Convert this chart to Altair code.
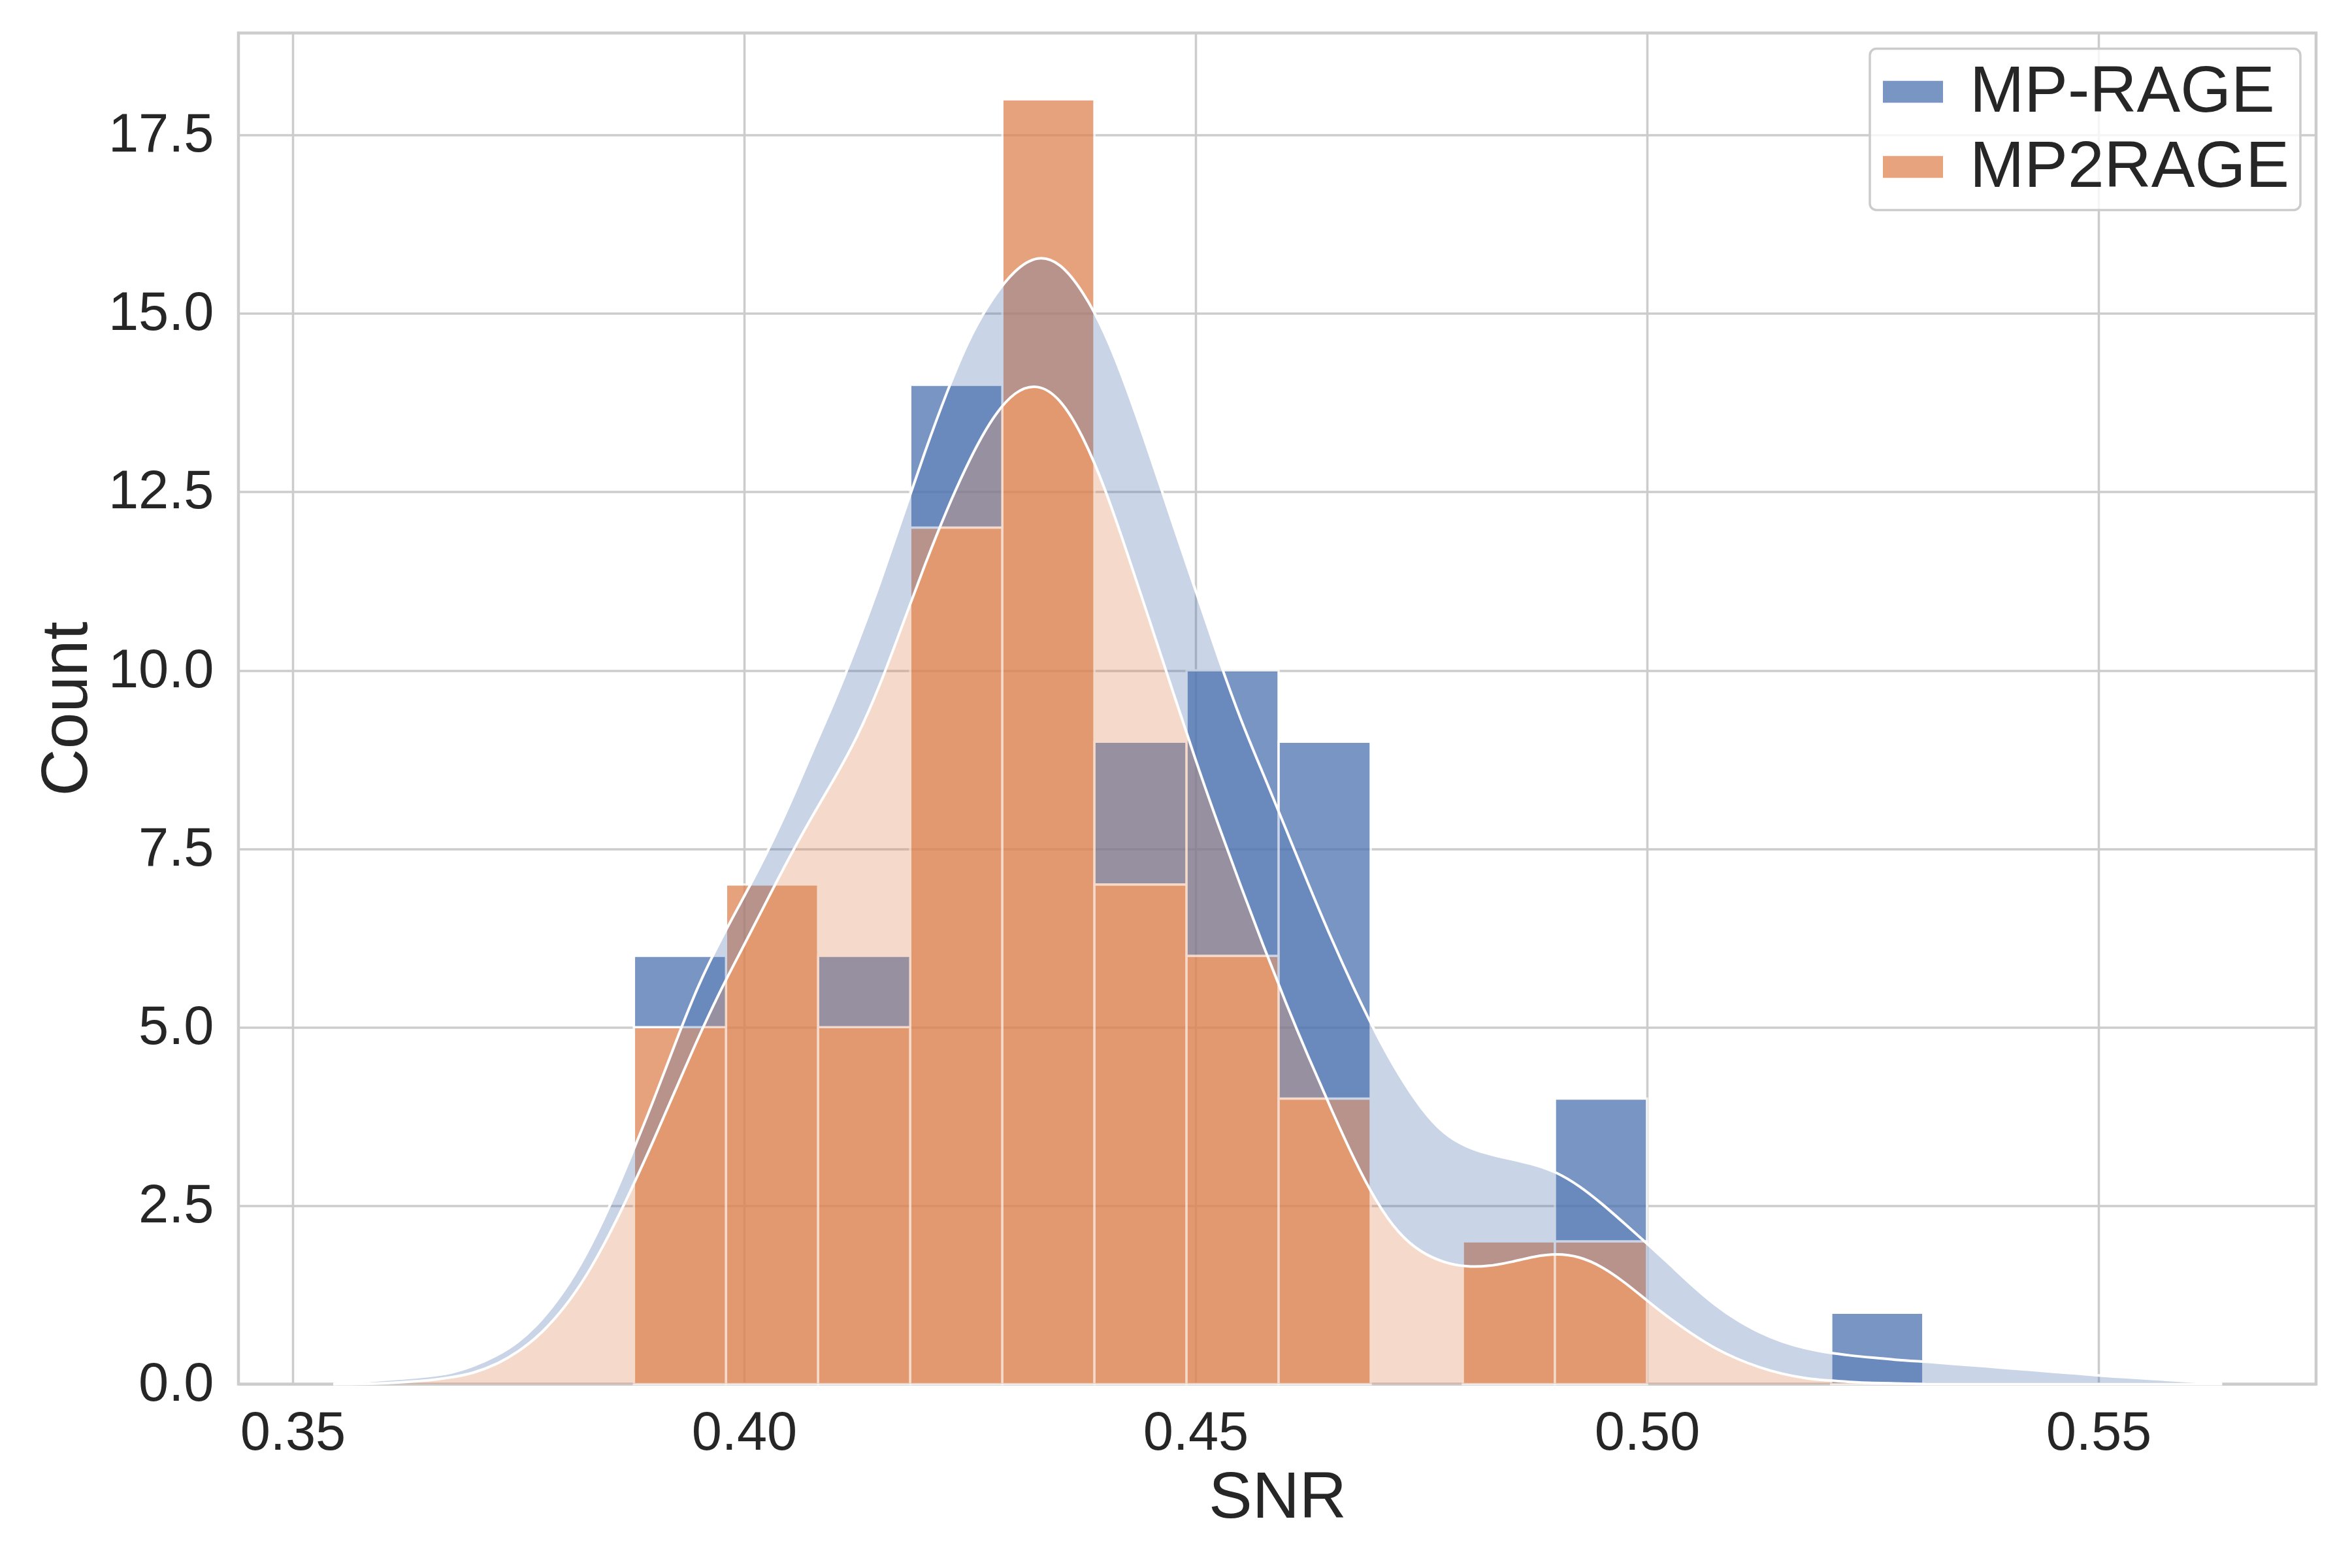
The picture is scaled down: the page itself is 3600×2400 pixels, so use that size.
import altair as alt
import pandas as pd

# ---- histogram (stacked: MP2RAGE at the bottom, MP-RAGE on top) ----
bin_left = [0.3878, 0.3980, 0.4082, 0.4184, 0.4286, 0.4388, 0.4490,
            0.4592, 0.4694, 0.4796, 0.4898, 0.5000, 0.5102, 0.5204]
bin_right = [0.3980, 0.4082, 0.4184, 0.4286, 0.4388, 0.4490, 0.4592,
             0.4694, 0.4796, 0.4898, 0.5000, 0.5102, 0.5204, 0.5306]
mp2rage_counts = [5, 7, 5, 12, 18, 7, 6, 4, 0, 2, 2, 0, 0, 0]
mprage_counts = [1, 0, 1, 2, 0, 2, 4, 5, 0, 0, 2, 0, 0, 1]

series_names = ["MP-RAGE", "MP2RAGE"]
series_colors = ["#4c72b0", "#dd8452"]

# ---- KDE curves (count scale) ----
kde_x = [0.3545, 0.3575, 0.3600, 0.3625, 0.3650, 0.3675, 0.3700, 0.3725,
         0.3750, 0.3775, 0.3800, 0.3825, 0.3850, 0.3875, 0.3900, 0.3925,
         0.3950, 0.3975, 0.4000, 0.4025, 0.4050, 0.4075, 0.4100, 0.4125,
         0.4150, 0.4175, 0.4200, 0.4225, 0.4250, 0.4275, 0.4300, 0.4325,
         0.4350, 0.4375, 0.4400, 0.4425, 0.4450, 0.4475, 0.4500, 0.4525,
         0.4550, 0.4575, 0.4600, 0.4625, 0.4650, 0.4675, 0.4700, 0.4725,
         0.4750, 0.4775, 0.4800, 0.4825, 0.4850, 0.4875, 0.4900, 0.4925,
         0.4950, 0.4975, 0.5000, 0.5025, 0.5050, 0.5075, 0.5100, 0.5125,
         0.5150, 0.5175, 0.5200, 0.5225, 0.5250, 0.5275, 0.5300, 0.5325,
         0.5350, 0.5375, 0.5400, 0.5425, 0.5450, 0.5475, 0.5500, 0.5525,
         0.5550, 0.5575, 0.5600, 0.5625, 0.5637]
kde_mp2rage = [0.00, 0.00, 0.01, 0.03, 0.05, 0.09, 0.15, 0.27,
               0.45, 0.70, 1.05, 1.50, 2.07, 2.72, 3.42, 4.15,
               4.88, 5.55, 6.15, 6.77, 7.38, 7.95, 8.48, 9.05,
               9.77, 10.62, 11.48, 12.27, 12.97, 13.55, 13.92, 14.02,
               13.82, 13.30, 12.55, 11.62, 10.66, 9.70, 8.74, 7.84,
               6.98, 6.14, 5.34, 4.58, 3.86, 3.16, 2.55, 2.10,
               1.84, 1.70, 1.64, 1.65, 1.71, 1.79, 1.83, 1.79,
               1.65, 1.43, 1.17, 0.92, 0.70, 0.50, 0.35, 0.23,
               0.14, 0.08, 0.05, 0.03, 0.015, 0.01, 0.00, 0.00,
               0.00, 0.00, 0.00, 0.00, 0.00, 0.00, 0.00, 0.00,
               0.00, 0.00, 0.00, 0.00, 0.00]
kde_total = [0.00, 0.03, 0.06, 0.08, 0.11, 0.15, 0.25, 0.39,
             0.58, 0.88, 1.28, 1.80, 2.45, 3.20, 3.98, 4.82,
             5.62, 6.25, 6.83, 7.43, 8.10, 8.85, 9.56, 10.35,
             11.20, 12.13, 13.06, 13.92, 14.68, 15.22, 15.62, 15.82,
             15.72, 15.32, 14.74, 13.92, 13.00, 12.05, 11.12, 10.18,
             9.30, 8.55, 7.78, 7.00, 6.25, 5.55, 4.90, 4.33,
             3.85, 3.50, 3.32, 3.22, 3.15, 3.08, 2.97, 2.78,
             2.53, 2.25, 1.97, 1.68, 1.38, 1.11, 0.89, 0.72,
             0.59, 0.50, 0.44, 0.40, 0.37, 0.34, 0.32, 0.30,
             0.27, 0.25, 0.22, 0.20, 0.17, 0.15, 0.12, 0.10,
             0.08, 0.06, 0.04, 0.02, 0.01]

x_ticks = [0.35, 0.40, 0.45, 0.50, 0.55]
y_ticks = [0.0, 2.5, 5.0, 7.5, 10.0, 12.5, 15.0, 17.5]
x_domain = [0.3440, 0.5741]
y_domain = [0, 18.93]

# ---- tables ----
rows = []
for l, r, c in zip(bin_left, bin_right, mp2rage_counts):
    rows.append({"left": l, "right": r, "series": "MP2RAGE", "order": 0, "count": c})
for l, r, c in zip(bin_left, bin_right, mprage_counts):
    rows.append({"left": l, "right": r, "series": "MP-RAGE", "order": 1, "count": c})
hist_df = pd.DataFrame(rows)

kde_df = pd.DataFrame({"x": kde_x, "o": kde_mp2rage, "b": kde_total})

FONT = "Liberation Sans, Arial, sans-serif"
xscale = alt.Scale(domain=x_domain, nice=False, zero=False)
yscale = alt.Scale(domain=y_domain, nice=False, zero=False)
xaxis = alt.Axis(values=x_ticks, format=".2f", labelPadding=34, titlePadding=8)
yaxis = alt.Axis(values=y_ticks, format=".1f", labelPadding=38, titlePadding=12)


def X(field):
    return alt.X(field, type="quantitative", scale=xscale, axis=xaxis, title="SNR")


def Y(field):
    return alt.Y(field, type="quantitative", scale=yscale, axis=yaxis, title="Count")


bars = (
    alt.Chart(hist_df)
    .transform_stack(stack="count", groupby=["left"], sort=[alt.SortField("order")], as_=["y0", "y1"])
    .transform_filter("datum.count > 0")
    .mark_bar(opacity=0.75, stroke="white", strokeWidth=3.5)
    .encode(
        x=X("left"),
        x2="right",
        y=Y("y0"),
        y2="y1",
        color=alt.Color(
            "series:N",
            scale=alt.Scale(domain=series_names, range=series_colors),
            legend=alt.Legend(title=None),
        ),
    )
)

orange_area = (
    alt.Chart(kde_df)
    .mark_area(color="#dd8452", opacity=0.3, interpolate="basis")
    .encode(x=X("x"), y=Y("o"))
)

blue_area = (
    alt.Chart(kde_df)
    .mark_area(color="#4c72b0", opacity=0.3, interpolate="basis")
    .encode(x=X("x"), y=Y("o"), y2="b")
)

orange_line = (
    alt.Chart(kde_df)
    .mark_line(color="white", strokeWidth=4, interpolate="basis")
    .encode(x=X("x"), y=Y("o"))
)

blue_line = (
    alt.Chart(kde_df)
    .mark_line(color="white", strokeWidth=4, interpolate="basis")
    .encode(x=X("x"), y=Y("b"))
)

chart = (
    alt.layer(bars, orange_area, blue_area, orange_line, blue_line)
    .properties(
        width=3180,
        height=2068,
        autosize=alt.AutoSizeParams(type="none"),
        padding={"left": 357, "top": 42.5, "right": 47, "bottom": 273.5},
        background="white",
    )
    .configure_view(stroke="#cccccc", strokeWidth=4.5)
    .configure_axis(
        grid=True,
        gridColor="#cccccc",
        gridWidth=3.5,
        domain=False,
        ticks=False,
        labelFont=FONT,
        labelFontSize=83,
        labelColor="#262626",
        titleFont=FONT,
        titleFontSize=100,
        titleColor="#262626",
        titleFontWeight="normal",
    )
    .configure_legend(
        orient="top-right",
        offset=24,
        padding=16,
        cornerRadius=10,
        fillColor="rgba(255,255,255,0.8)",
        strokeColor="#cccccc",
        strokeWidth=3.5,
        labelFont=FONT,
        labelFontSize=100,
        labelColor="#262626",
        labelLimit=1000,
        labelOffset=37,
        rowPadding=15,
        symbolType="M-1,-0.365H1V0.365H-1Z",
        symbolSize=8464,
        symbolStrokeWidth=0,
        symbolOpacity=0.75,
    )
)

chart.save("out.html", embed_options={"renderer": "svg", "actions": False})
